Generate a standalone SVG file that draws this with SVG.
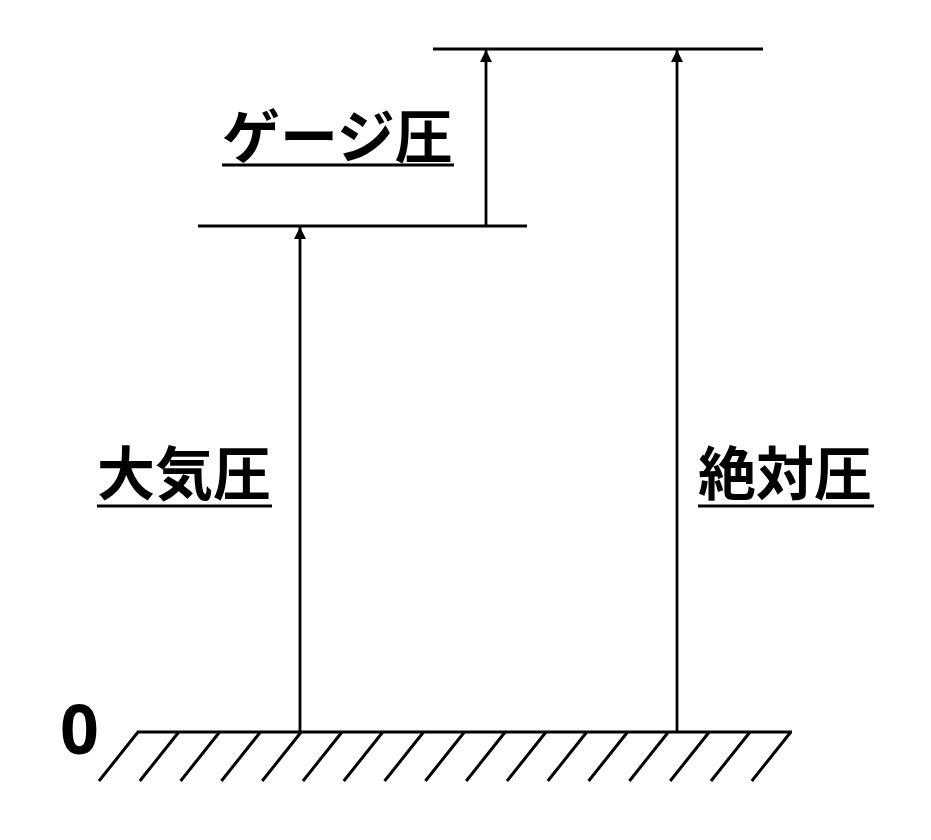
<svg xmlns="http://www.w3.org/2000/svg" width="931" height="840" viewBox="0 0 931 840">
<defs>
<style>
.ln{stroke:#000;stroke-width:2.8;fill:none}
.gr{stroke:#000;stroke-width:3;fill:none}
.lbl{font-family:"Noto Sans CJK JP","Noto Sans",sans-serif;font-weight:bold;font-size:58px;fill:#000}
.ul{stroke:#000;stroke-width:3}
</style>
<marker id="ah" markerWidth="12" markerHeight="12" viewBox="0 0 12 12" refX="12" refY="6" orient="auto" markerUnits="userSpaceOnUse">
<path d="M0,0 L12,6 L0,12 Z" fill="#000"/>
</marker>
</defs>
<rect width="931" height="840" fill="#fff"/>
<g id="ground">
<line class="gr" x1="137" y1="732" x2="792" y2="732"/>
<path class="gr" d="M138,732 L99,781 M178.8,732 L139.8,781 M219.6,732 L180.6,781 M260.4,732 L221.4,781 M301.2,732 L262.2,781 M342,732 L303,781 M382.8,732 L343.8,781 M423.6,732 L384.6,781 M464.4,732 L425.4,781 M505.2,732 L466.2,781 M546,732 L507,781 M586.8,732 L547.8,781 M627.6,732 L588.6,781 M668.4,732 L629.4,781 M709.2,732 L670.2,781 M750,732 L711,781 M790.8,732 L751.8,781"/>
<text x="60" y="754" font-family="'Noto Sans','Liberation Sans',sans-serif" font-weight="bold" font-size="68" fill="#000">0</text>
</g>
<g id="levels">
<line class="ln" x1="198" y1="226" x2="527" y2="226"/>
<line class="ln" x1="433" y1="49" x2="763" y2="49"/>
</g>
<g id="connectors">
<line class="ln" x1="300" y1="732" x2="300" y2="227" marker-end="url(#ah)"/>
<line class="ln" x1="486" y1="226" x2="486" y2="50" marker-end="url(#ah)"/>
<line class="ln" x1="677" y1="732" x2="677" y2="50" marker-end="url(#ah)"/>
</g>
<g id="label-gauge">
<text class="lbl" x="222" y="158">ゲージ圧</text>
<line class="ul" x1="222" y1="165" x2="454" y2="165"/>
</g>
<g id="label-atm">
<text class="lbl" x="97" y="495">大気圧</text>
<line class="ul" x1="97" y1="506" x2="272" y2="506"/>
</g>
<g id="label-abs">
<text class="lbl" x="698" y="495">絶対圧</text>
<line class="ul" x1="698" y1="506" x2="874" y2="506"/>
</g>
</svg>
